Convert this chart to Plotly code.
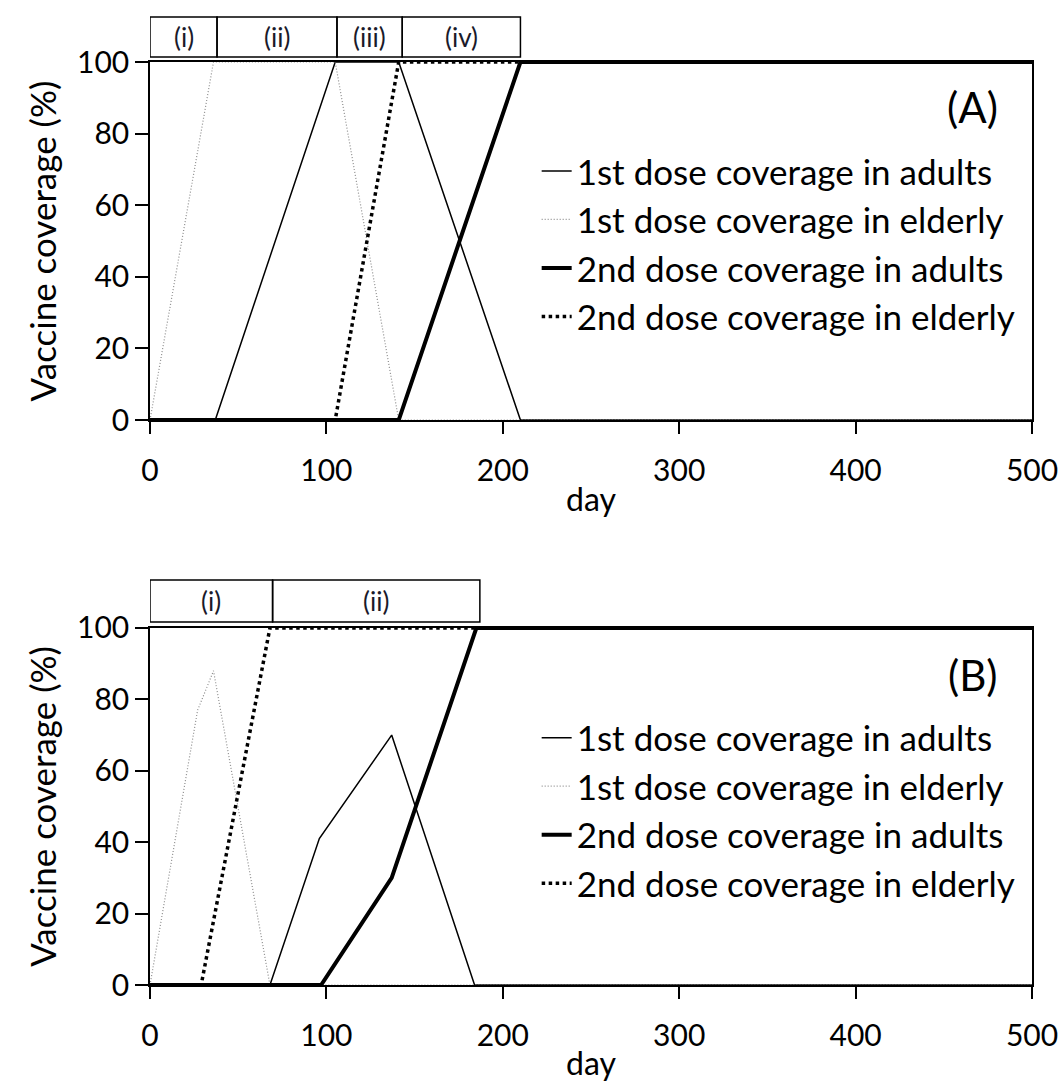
import plotly.graph_objects as go

# ---------------- data ----------------
series_names = ["1st dose coverage in adults", "1st dose coverage in elderly",
                "2nd dose coverage in adults", "2nd dose coverage in elderly"]

# Panel A
a_adult1_day = [0, 37, 105, 141, 210, 500]
a_adult1_val = [0, 0, 100, 100, 0, 0]
a_elder1_day = [0, 36, 105, 141, 500]
a_elder1_val = [0, 100, 100, 0, 0]
a_adult2_day = [0, 141, 210, 500]
a_adult2_val = [0, 0, 100, 100]
a_elder2_day = [0, 105, 141, 500]
a_elder2_val = [0, 0, 100, 100]
a_phase_days = [0, 38, 106, 143, 210]
a_phase_labels = ["(i)", "(ii)", "(iii)", "(iv)"]

# Panel B
b_adult1_day = [0, 68, 96, 137, 184, 500]
b_adult1_val = [0, 0, 41, 70, 0, 0]
b_elder1_day = [0, 27, 36, 68, 500]
b_elder1_val = [0, 77, 88, 0, 0]
b_adult2_day = [0, 97, 137, 185, 500]
b_adult2_val = [0, 0, 30, 100, 100]
b_elder2_day = [0, 29, 68, 500]
b_elder2_val = [0, 0, 100, 100]
b_phase_days = [0, 69.5, 187]
b_phase_labels = ["(i)", "(ii)"]

x_ticks = [0, 100, 200, 300, 400, 500]
y_ticks = [0, 20, 40, 60, 80, 100]

FONT = "Lato, Carlito, 'Open Sans', sans-serif"

styles = [
    dict(color="#000000", width=1.5, dash="solid"),
    dict(color="#8c8c8c", width=1.2, dash="1px,2px"),
    dict(color="#000000", width=4, dash="solid"),
    dict(color="#000000", width=3.5, dash="dot"),
]

fig = go.Figure()

panelA = [(a_adult1_day, a_adult1_val), (a_elder1_day, a_elder1_val),
          (a_adult2_day, a_adult2_val), (a_elder2_day, a_elder2_val)]
panelB = [(b_adult1_day, b_adult1_val), (b_elder1_day, b_elder1_val),
          (b_adult2_day, b_adult2_val), (b_elder2_day, b_elder2_val)]

for i, (d, v) in enumerate(panelA):
    fig.add_trace(go.Scatter(x=d, y=v, mode="lines", name=series_names[i],
                             line=styles[i], xaxis="x", yaxis="y",
                             legend="legend", legendgroup="a%d" % i, cliponaxis=False))
for i, (d, v) in enumerate(panelB):
    fig.add_trace(go.Scatter(x=d, y=v, mode="lines", name=series_names[i],
                             line=styles[i], xaxis="x2", yaxis="y2",
                             legend="legend2", legendgroup="b%d" % i, cliponaxis=False))

# phase boxes (paper y coordinates)
shapes = []
annotations = []
def add_phases(days, labels, xref, y0, y1):
    for k in range(len(labels)):
        shapes.append(dict(type="rect", xref=xref, yref="paper",
                           x0=days[k], x1=days[k + 1], y0=y0, y1=y1,
                           line=dict(color="black", width=1.5)))
        annotations.append(dict(text=labels[k], xref=xref, yref="paper",
                                x=(days[k] + days[k + 1]) / 2, y=(y0 + y1) / 2,
                                yanchor="middle", xanchor="center",
                                showarrow=False, font=dict(size=26, color="#1a1a2a", family=FONT)))

add_phases(a_phase_days, a_phase_labels, "x", 1.0054, 1.0488)
add_phases(b_phase_days, b_phase_labels, "x2", 0.3933, 0.4388)

annotations.append(dict(text="(A)", xref="paper", yref="paper", x=0.933, y=0.951,
                        xanchor="center", yanchor="middle",
                        showarrow=False, font=dict(size=42, color="black", family=FONT)))
annotations.append(dict(text="(B)", xref="paper", yref="paper", x=0.933, y=0.336,
                        xanchor="center", yanchor="middle",
                        showarrow=False, font=dict(size=42, color="black", family=FONT)))

axis_common = dict(showline=True, linecolor="black", linewidth=1.5, mirror=True,
                   showgrid=False, zeroline=False, ticks="outside", tickcolor="black",
                   tickwidth=1.5, automargin=False, ticklabeloverflow="allow",
                   tickfont=dict(size=30, color="black", family=FONT))

xa = dict(axis_common, range=[0, 500], tickvals=x_ticks, ticklen=12, ticklabelstandoff=11,
          title=dict(text="day", font=dict(size=32, color="black", family=FONT), standoff=3))
ya = dict(axis_common, range=[0, 100], tickvals=y_ticks, ticklen=13,
          ticksuffix="\u2002\u200b",
          title=dict(text="Vaccine coverage (%)", font=dict(size=35, color="black", family=FONT), standoff=10))

legend_common = dict(font=dict(size=35, color="black", family=FONT), bgcolor="rgba(0,0,0,0)",
                     tracegroupgap=0, xanchor="left", yanchor="top", traceorder="normal")

fig.update_layout(
    width=1063, height=1082,
    margin=dict(l=150, r=31, t=62, b=97, autoexpand=False),
    paper_bgcolor="white", plot_bgcolor="white",
    xaxis=dict(xa, domain=[0, 1], anchor="y"),
    yaxis=dict(ya, domain=[0.6121, 1], anchor="x"),
    xaxis2=dict(xa, domain=[0, 1], anchor="y2"),
    yaxis2=dict(ya, domain=[0, 0.3868], anchor="x2"),
    legend=dict(legend_common, x=0.4384, y=0.9137),
    legend2=dict(legend_common, x=0.4384, y=0.2997),
    shapes=shapes, annotations=annotations,
    showlegend=True,
)

# remove the default page margin so the figure fills the window exactly
fig.write_html("out.html", config={"displayModeBar": False},
               post_script="document.body.style.margin='0';document.body.style.overflow='hidden';")
